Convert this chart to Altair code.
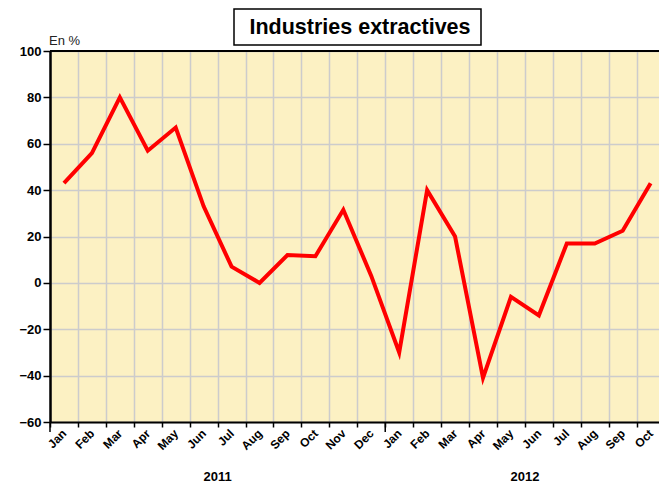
import altair as alt
import pandas as pd

months = ["Jan", "Feb", "Mar", "Apr", "May", "Jun", "Jul", "Aug", "Sep", "Oct", "Nov", "Dec",
          "Jan", "Feb", "Mar", "Apr", "May", "Jun", "Jul", "Aug", "Sep", "Oct"]
years = ["2011"] * 12 + ["2012"] * 10
values = [43, 56, 80, 57, 67, 33, 7, 0, 12, 11.5, 31.5, 3,
          -30, 40, 20, -41, -6, -14, 17, 17, 22.5, 43]

idx = list(range(len(months)))
df = pd.DataFrame({"idx": idx, "month": months, "year": years, "value": values})

W, H = 609, 371
xscale = alt.Scale(domain=[-0.5, len(months) - 0.7], nice=False, zero=False)
yscale = alt.Scale(domain=[-60, 100], nice=False)
label_expr = "[" + ",".join("'%s'" % m for m in months) + "][datum.value]"

base = alt.Chart(df)

line = base.mark_line(color="#FF0000", strokeWidth=4, clip=True).encode(
    x=alt.X("idx:Q", scale=xscale, title=None,
            axis=alt.Axis(values=[i - 0.5 for i in idx], labels=False, grid=True,
                          gridColor="#CCCCCC", gridWidth=1.5, tickSize=5, tickColor="black",
                          tickWidth=1.5, domainColor="black", domainWidth=2, orient="bottom")),
    y=alt.Y("value:Q", scale=yscale, title=None,
            axis=alt.Axis(values=list(range(-60, 101, 20)), grid=True, gridColor="#CCCCCC",
                          gridWidth=1.5, tickSize=7, tickColor="black", tickWidth=1.5,
                          domainColor="black", domainWidth=2.5, labelFont="Liberation Sans",
                          labelFontWeight="bold", labelFontSize=13, labelColor="black",
                          labelPadding=2)),
)

labels = base.mark_point(opacity=0).encode(
    x=alt.X("idx:Q", scale=xscale, title=None,
            axis=alt.Axis(values=idx, labelExpr=label_expr, ticks=False, grid=False,
                          domain=False, labelAngle=-45, labelAlign="right",
                          labelBaseline="middle", labelFont="Liberation Sans",
                          labelFontWeight="bold", labelFontSize=12, labelColor="black",
                          labelPadding=9, orient="bottom", labelOverlap=False)),
    y=alt.value(0),
)

year_ticks = base.transform_aggregate(first="min(idx)", groupby=["year"]).transform_calculate(
    start="datum.first - 0.5").mark_rule(color="black", strokeWidth=1.5).encode(
    x=alt.X("start:Q", scale=xscale, axis=None),
    y=alt.value(H), y2=alt.value(H + 10),
)

year_text = base.transform_aggregate(mid="mean(idx)", groupby=["year"]).mark_text(
    font="Liberation Sans", fontWeight="bold", fontSize=13, color="black",
    baseline="middle").encode(
    x=alt.X("mid:Q", scale=xscale, axis=None),
    y=alt.value(H + 55),
    text="year:N",
)

top_border = alt.Chart(pd.DataFrame({"a": [0]})).mark_rule(color="black", strokeWidth=2).encode(
    x=alt.value(0), x2=alt.value(W), y=alt.value(0))

title_box = alt.Chart(pd.DataFrame({"a": [0]})).mark_rect(
    fill="white", stroke="black", strokeWidth=1.5).encode(
    x=alt.value(184), x2=alt.value(431), y=alt.value(-42), y2=alt.value(-6))

title_text = alt.Chart(pd.DataFrame({"t": ["Industries extractives"]})).mark_text(
    font="Liberation Sans", fontWeight="bold", fontSize=21.5, color="black",
    align="center", baseline="middle").encode(
    x=alt.value(310), y=alt.value(-23), text="t:N")

unit_text = alt.Chart(pd.DataFrame({"t": ["En %"]})).mark_text(
    font="Liberation Sans", fontSize=13, color="#222222", align="left",
    baseline="alphabetic").encode(x=alt.value(-1), y=alt.value(-6), text="t:N")

chart = alt.layer(line, labels, year_ticks, year_text, top_border, title_box, title_text,
                  unit_text).resolve_axis(x="independent").properties(
    width=W, height=H,
    autosize=alt.AutoSizeParams(type="none"),
    padding={"left": 42, "top": 43, "right": 0, "bottom": 61},
    background="white",
).configure_view(fill="#FCF1C3", stroke=None)

chart.save("out.html", embed_options={"renderer": "svg", "actions": False})
